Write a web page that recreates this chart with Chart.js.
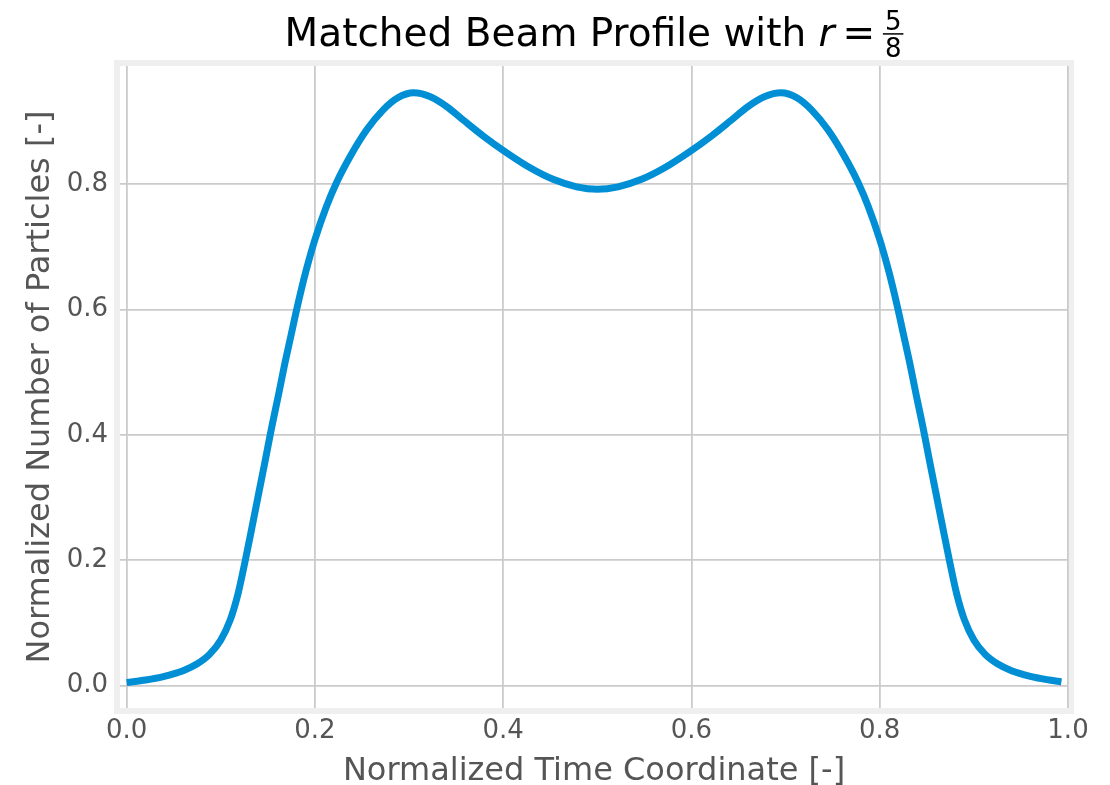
<!DOCTYPE html>
<html>
<head>
<meta charset="utf-8">
<script src="https://cdn.jsdelivr.net/npm/chart.js@4.4.1/dist/chart.umd.min.js"></script>
<style>
  html, body { margin: 0; padding: 0; background: #fff; }
  #wrap { width: 1110px; height: 785px; }
</style>
</head>
<body>
<div id="wrap"><canvas id="beamChart" width="1110" height="785"></canvas></div>
<script>
// matched beam profile: normalized time coordinate vs. normalized particle count
const timeCoord = [
  0.000, 0.020, 0.040, 0.060, 0.075, 0.088, 0.100, 0.110, 0.118, 0.126,
  0.133, 0.140, 0.147, 0.154, 0.161, 0.168, 0.175, 0.181, 0.190, 0.200,
  0.212, 0.223, 0.238, 0.255, 0.272, 0.288, 0.305, 0.322, 0.340, 0.358,
  0.378, 0.401, 0.429, 0.453, 0.478, 0.500,
  0.522, 0.547, 0.571, 0.599, 0.622, 0.642, 0.660, 0.678, 0.695, 0.712,
  0.728, 0.745, 0.762, 0.777, 0.788, 0.800, 0.810, 0.819, 0.825, 0.832,
  0.839, 0.846, 0.853, 0.860, 0.867, 0.874, 0.882, 0.890, 0.900, 0.912,
  0.925, 0.940, 0.960, 0.980, 0.993
];
const particles = [
  0.005, 0.009, 0.015, 0.024, 0.035, 0.050, 0.073, 0.105, 0.145, 0.200,
  0.252, 0.305, 0.358, 0.412, 0.462, 0.514, 0.562, 0.603, 0.659, 0.712,
  0.764, 0.803, 0.846, 0.887, 0.918, 0.938, 0.946, 0.940, 0.924, 0.902,
  0.878, 0.853, 0.826, 0.808, 0.796, 0.792,
  0.796, 0.808, 0.826, 0.853, 0.878, 0.902, 0.924, 0.940, 0.946, 0.938,
  0.918, 0.887, 0.846, 0.803, 0.764, 0.712, 0.659, 0.603, 0.562, 0.514,
  0.462, 0.412, 0.358, 0.305, 0.252, 0.200, 0.145, 0.105, 0.073, 0.050,
  0.035, 0.024, 0.015, 0.009, 0.006
];
const xTicks = [0.0, 0.2, 0.4, 0.6, 0.8, 1.0];
const yTicks = [0.0, 0.2, 0.4, 0.6, 0.8];

const titleText = "Matched Beam Profile with ";
const fracNum = "5";
const fracDen = "8";

Chart.defaults.font.family = "'DejaVu Sans', sans-serif";

// light grey frame around the plotting area
const axesFrame = {
  id: "axesFrame",
  beforeDraw(chart) {
    const { ctx, chartArea: a } = chart;
    ctx.save();
    ctx.strokeStyle = "#efefef";
    ctx.lineWidth = 6;
    ctx.strokeRect(a.left - 3, a.top - 3, a.right - a.left + 6, a.bottom - a.top + 6);
    ctx.restore();
  },
};

// title with the inline "r = 5/8" fraction
const mathTitle = {
  id: "mathTitle",
  afterDraw(chart) {
    const { ctx, chartArea: a } = chart;
    const cx = (a.left + a.right) / 2;
    const base = 46;
    const big = 39;
    const small = 26;
    ctx.save();
    ctx.fillStyle = "#000";
    ctx.textBaseline = "alphabetic";
    ctx.textAlign = "left";

    ctx.font = big + "px 'DejaVu Sans'";
    const wText = ctx.measureText(titleText).width;
    const wEq = ctx.measureText("=").width;
    ctx.font = "italic " + big + "px 'DejaVu Sans'";
    const wR = ctx.measureText("r").width;
    ctx.font = small + "px 'DejaVu Sans'";
    const wNum = ctx.measureText(fracNum).width;
    const wDen = ctx.measureText(fracDen).width;
    const wFrac = Math.max(wNum, wDen) + 4;
    const gap = big * 0.2;
    const total = wText + wR + gap + wEq + gap + wFrac;

    let x = cx - total / 2;
    ctx.font = big + "px 'DejaVu Sans'";
    ctx.fillText(titleText, x, base);
    x += wText;
    ctx.font = "italic " + big + "px 'DejaVu Sans'";
    ctx.fillText("r", x, base);
    x += wR + gap;
    ctx.font = big + "px 'DejaVu Sans'";
    ctx.fillText("=", x, base);
    x += wEq + gap;

    const barY = base - big * 0.31;
    ctx.fillRect(x, barY - 0.75, wFrac, 1.5);
    ctx.font = small + "px 'DejaVu Sans'";
    ctx.fillText(fracNum, x + (wFrac - wNum) / 2, barY - 4);
    ctx.fillText(fracDen, x + (wFrac - wDen) / 2, barY + 4 + small * 0.73);
    ctx.restore();
  },
};

const gridStyle = { color: "#cbcbcb", lineWidth: 1.8, drawTicks: false };

new Chart("beamChart", {
  type: "line",
  data: {
    datasets: [
      {
        data: timeCoord.map((t, i) => ({ x: t, y: particles[i] })),
        borderColor: "#008fd5",
        borderWidth: 7,
        pointRadius: 0,
        fill: false,
        cubicInterpolationMode: "monotone",
      },
    ],
  },
  options: {
    responsive: false,
    animation: false,
    layout: {
      padding: { top: 66, right: 42, bottom: 0, left: 0 },
    },
    plugins: {
      legend: { display: false },
      tooltip: { enabled: false },
    },
    scales: {
      x: {
        type: "linear",
        min: -0.0071,
        max: 1.0,
        afterBuildTicks: (scale) => {
          scale.ticks = xTicks.map((v) => ({ value: v }));
        },
        afterFit: (scale) => {
          scale.height = 77;
        },
        grid: gridStyle,
        border: { display: false },
        ticks: {
          padding: 8,
          color: "#555",
          font: { size: 26 },
          maxRotation: 0,
          callback: (v) => Number(v).toFixed(1),
        },
        title: {
          display: true,
          text: "Normalized Time Coordinate [-]",
          color: "#555",
          font: { size: 32, lineHeight: 0.8 },
          padding: { top: 0, bottom: 1 },
        },
      },
      y: {
        type: "linear",
        min: -0.0356,
        max: 0.9888,
        afterBuildTicks: (scale) => {
          scale.ticks = yTicks.map((v) => ({ value: v }));
        },
        afterFit: (scale) => {
          scale.width = 120;
        },
        grid: gridStyle,
        border: { display: false },
        ticks: {
          padding: 12,
          color: "#555",
          font: { size: 26 },
          callback: (v) => Number(v).toFixed(1),
        },
        title: {
          display: true,
          text: "Normalized Number of Particles [-]",
          color: "#555",
          font: { size: 32, lineHeight: 1 },
          padding: { top: 25, bottom: 0 },
        },
      },
    },
  },
  plugins: [axesFrame, mathTitle],
});
</script>
</body>
</html>
